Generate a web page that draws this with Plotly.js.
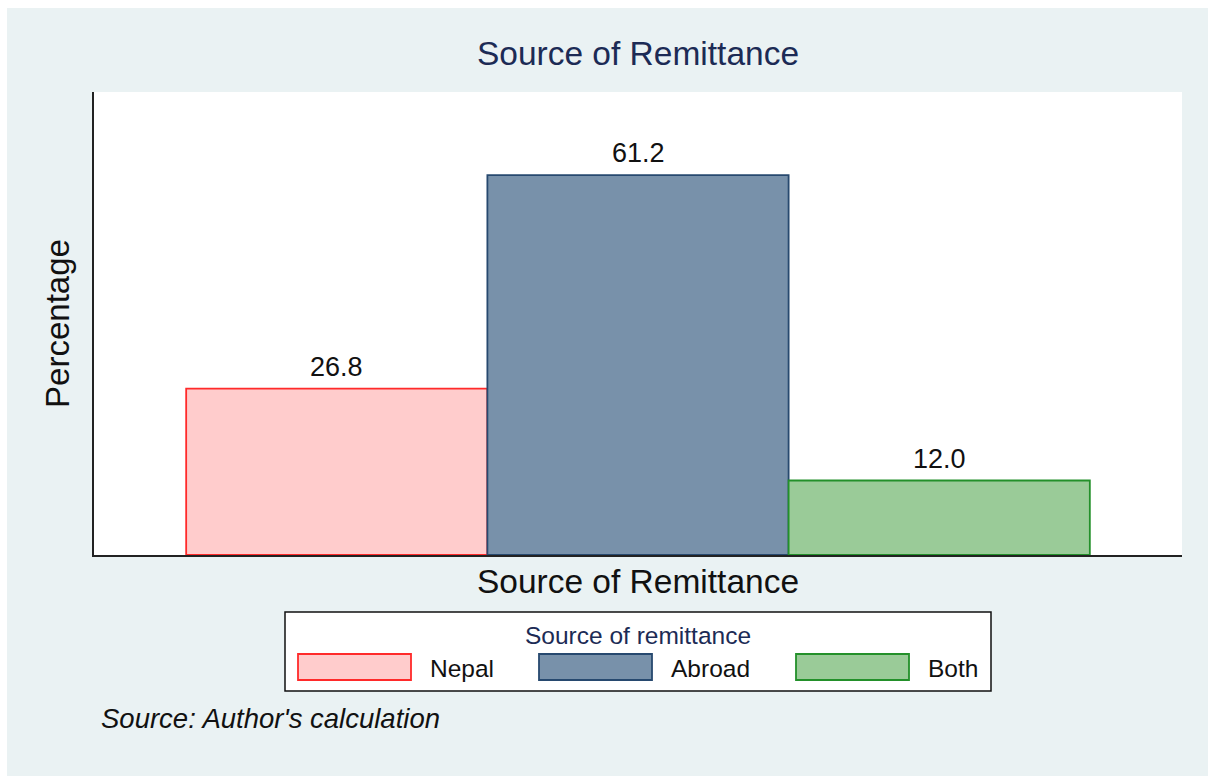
<!DOCTYPE html>
<html>
<head>
<meta charset="utf-8">
<script src="https://cdn.plot.ly/plotly-3.0.1.min.js"></script>
<style>
  html, body { margin: 0; padding: 0; background: #ffffff; width: 1208px; height: 776px; overflow: hidden; }
  #chart { position: absolute; left: 7px; top: 8px; width: 1201px; height: 768px; }
</style>
</head>
<body>
<div id="chart"></div>
<script>
// ---- data ----
const chartTitle = "Source of Remittance";
const xAxisTitle = "Source of Remittance";
const yAxisTitle = "Percentage";
const legendTitle = "Source of remittance";
const sourceNote = "Source: Author's calculation";
const categories = ["Nepal", "Abroad", "Both"];
const percentages = [26.8, 61.2, 12.0];

// ---- styles ----
const fillColors = ["#ffcccc", "#7891aa", "#9acb98"];
const lineColors = ["#ff2a2a", "#27496f", "#23902a"];
const FONT = "Liberation Sans, Arial, sans-serif";
const NAVY = "#1c2b55";

const trace = {
  type: "bar",
  x: categories,
  y: percentages,
  width: 1,
  marker: { color: fillColors, line: { color: lineColors, width: 1.8 } },
  hoverinfo: "x+y",
  showlegend: false
};

// value labels above bars
const annotations = categories.map((c, i) => ({
  x: c, y: percentages[i], xref: "x", yref: "y",
  text: percentages[i].toFixed(1),
  showarrow: false, yanchor: "middle", yshift: 22,
  font: { family: FONT, size: 27, color: "#111111" }
}));

// legend (drawn manually to reproduce wide swatches)
const plotL = 94, plotW = 1088, plotB = 555, plotH = 463;
const px = v => (v - plotL) / plotW;
const py = v => -(v - plotB) / plotH;

const shapes = [{
  type: "rect", xref: "paper", yref: "paper",
  x0: px(285), x1: px(991), y0: py(691), y1: py(612),
  fillcolor: "#ffffff", line: { color: "#111111", width: 1.5 }, layer: "below"
}];
const swatchX = [298, 539, 796];
categories.forEach((c, i) => {
  shapes.push({
    type: "rect", xref: "paper", yref: "paper",
    x0: px(swatchX[i]), x1: px(swatchX[i] + 113), y0: py(680), y1: py(654),
    fillcolor: fillColors[i], line: { color: lineColors[i], width: 1.8 }
  });
  annotations.push({
    xref: "paper", yref: "paper", x: px(swatchX[i] + 130), y: py(668),
    xanchor: "left", yanchor: "middle", text: c, showarrow: false,
    font: { family: FONT, size: 24.5, color: "#111111" }
  });
});
annotations.push({
  xref: "paper", yref: "paper", x: 0.5, y: py(635),
  xanchor: "center", yanchor: "middle", text: legendTitle, showarrow: false,
  font: { family: FONT, size: 24.5, color: NAVY }
});
annotations.push({
  xref: "paper", yref: "paper", x: px(99), y: py(718),
  xanchor: "left", yanchor: "middle", text: "<i>" + sourceNote + "</i>", showarrow: false,
  font: { family: FONT, size: 27.5, color: "#111111" }
});

const layout = {
  width: 1201, height: 768,
  margin: { l: 87, r: 26, t: 84, b: 221, pad: 0 },
  paper_bgcolor: "#eaf2f3",
  plot_bgcolor: "#ffffff",
  font: { family: FONT, color: "#111111" },
  title: {
    text: chartTitle, font: { family: FONT, size: 33.5, color: NAVY },
    xref: "paper", x: 0.5, xanchor: "center",
    yref: "container", y: 1 - 45 / 768, yanchor: "middle"
  },
  bargap: 0,
  xaxis: {
    type: "category", range: [-0.806, 2.806],
    showticklabels: false, ticks: "", showgrid: false, zeroline: false,
    showline: true, linecolor: "#222222", linewidth: 2, mirror: false,
    title: { text: xAxisTitle, font: { family: FONT, size: 33.5, color: "#111111" }, standoff: 14 },
    fixedrange: true
  },
  yaxis: {
    range: [0, 74.6],
    showticklabels: false, ticks: "", showgrid: false, zeroline: false,
    showline: true, linecolor: "#222222", linewidth: 2, mirror: false,
    title: { text: yAxisTitle, font: { family: FONT, size: 33, color: "#111111" }, standoff: 12 },
    fixedrange: true
  },
  shapes: shapes,
  annotations: annotations,
  showlegend: false
};

Plotly.newPlot("chart", [trace], layout, { displayModeBar: false, staticPlot: true });
</script>
</body>
</html>
